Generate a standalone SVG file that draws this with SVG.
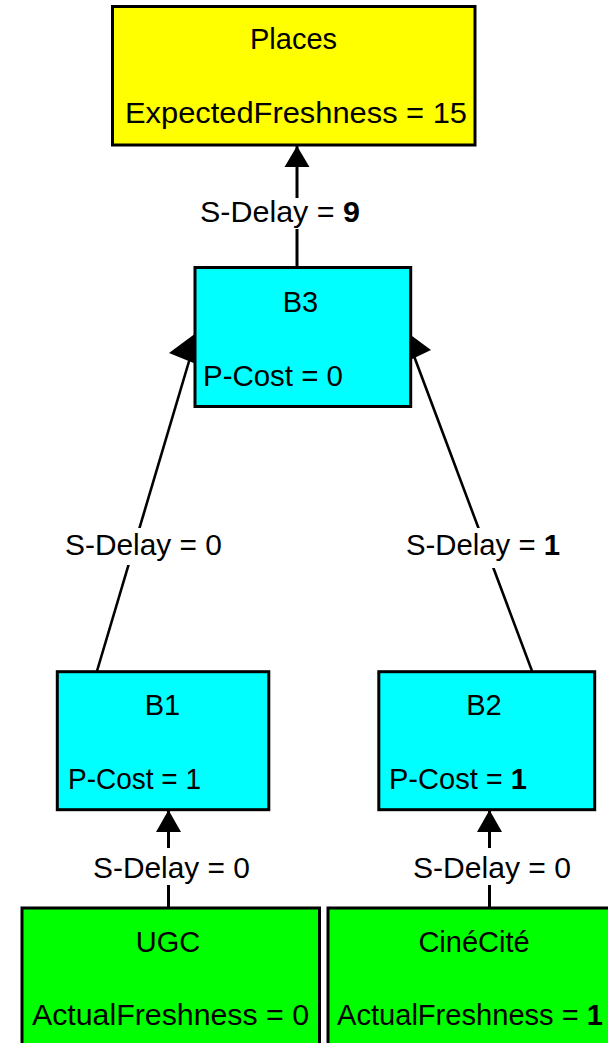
<svg xmlns="http://www.w3.org/2000/svg" width="608" height="1043" viewBox="0 0 608 1043">
  <style>
    text { font-family: "Liberation Sans", Arial, sans-serif; font-size: 29px; fill: #000; }
    .mid { text-anchor: middle; }
    .b { font-weight: bold; }
    .box { stroke: #000; stroke-width: 3; }
    .yellow { fill: #ffff00; }
    .cyan { fill: #00ffff; }
    .green { fill: #00ff00; }
    .edge { stroke: #000; stroke-width: 3; fill: none; }
    .slant { stroke: #000; stroke-width: 2.6; fill: none; }
    .head { fill: #000; }
    .lblbg { fill: #ffffff; }
  </style>

  <rect x="0" y="0" width="608" height="1043" fill="#ffffff"/>

  <!-- connectors: drawn first so the node boxes sit over the arrow tips -->
  <g id="connectors">
    <!-- B3 -> Places -->
    <line class="edge" x1="297" y1="146" x2="297" y2="267"/>
    <polygon class="head" points="297,146 284.5,167 309.5,167"/>
    <rect class="lblbg" x="198" y="198" width="165" height="31"/>
    <text x="200" y="222" textLength="160" lengthAdjust="spacingAndGlyphs">S-Delay = <tspan class="b">9</tspan></text>

    <!-- B1 -> B3 -->
    <line class="slant" x1="97" y1="671" x2="190" y2="358"/>
    <polygon class="head" points="196,333 169,353 196,364"/>
    <rect class="lblbg" x="62" y="528" width="163" height="37"/>
    <text x="65" y="555" textLength="157" lengthAdjust="spacingAndGlyphs">S-Delay = 0</text>

    <!-- B2 -> B3 -->
    <line class="slant" x1="532" y1="671" x2="414" y2="356"/>
    <polygon class="head" points="408,333 431,350 410,360"/>
    <rect class="lblbg" x="403" y="528" width="160" height="40"/>
    <text x="406" y="555" textLength="154" lengthAdjust="spacingAndGlyphs">S-Delay = <tspan class="b">1</tspan></text>

    <!-- UGC -> B1 -->
    <line class="edge" x1="168.5" y1="810" x2="168.5" y2="908"/>
    <polygon class="head" points="168.5,810 156,832 181,832"/>
    <rect class="lblbg" x="90" y="848" width="163" height="37"/>
    <text x="93" y="878" textLength="157" lengthAdjust="spacingAndGlyphs">S-Delay = 0</text>

    <!-- CinéCité -> B2 -->
    <line class="edge" x1="489.5" y1="810" x2="489.5" y2="908"/>
    <polygon class="head" points="489.5,810 477,832 502,832"/>
    <rect class="lblbg" x="410" y="848" width="164" height="37"/>
    <text x="413" y="878" textLength="158" lengthAdjust="spacingAndGlyphs">S-Delay = 0</text>
  </g>

  <g id="node-places">
    <rect class="box yellow" x="112.5" y="6.5" width="362.5" height="138.5"/>
    <text class="mid" x="293.5" y="49">Places</text>
    <text x="125" y="123" textLength="342" lengthAdjust="spacingAndGlyphs">ExpectedFreshness = 15</text>
  </g>

  <g id="node-b3">
    <rect class="box cyan" x="195" y="267.5" width="215.7" height="139"/>
    <text class="mid" x="300.5" y="312">B3</text>
    <text x="203" y="386" textLength="140" lengthAdjust="spacingAndGlyphs">P-Cost = 0</text>
  </g>

  <g id="node-b1">
    <rect class="box cyan" x="57.3" y="671.7" width="211.5" height="138"/>
    <text class="mid" x="162.5" y="715">B1</text>
    <text x="68" y="789" textLength="133" lengthAdjust="spacingAndGlyphs">P-Cost = 1</text>
  </g>

  <g id="node-b2">
    <rect class="box cyan" x="378.8" y="671.7" width="215.9" height="138"/>
    <text class="mid" x="484" y="715">B2</text>
    <text x="389" y="789" textLength="138" lengthAdjust="spacingAndGlyphs">P-Cost = <tspan class="b">1</tspan></text>
  </g>

  <g id="node-ugc">
    <rect class="box green" x="22" y="908" width="297.5" height="150"/>
    <text class="mid" x="168" y="952">UGC</text>
    <text x="32" y="1025" textLength="277" lengthAdjust="spacingAndGlyphs">ActualFreshness = 0</text>
  </g>

  <g id="node-cinecite">
    <rect class="box green" x="328" y="908" width="300" height="150"/>
    <text class="mid" x="474" y="952">CinéCité</text>
    <text x="337" y="1025" textLength="266" lengthAdjust="spacingAndGlyphs">ActualFreshness = <tspan class="b">1</tspan></text>
  </g>
</svg>
